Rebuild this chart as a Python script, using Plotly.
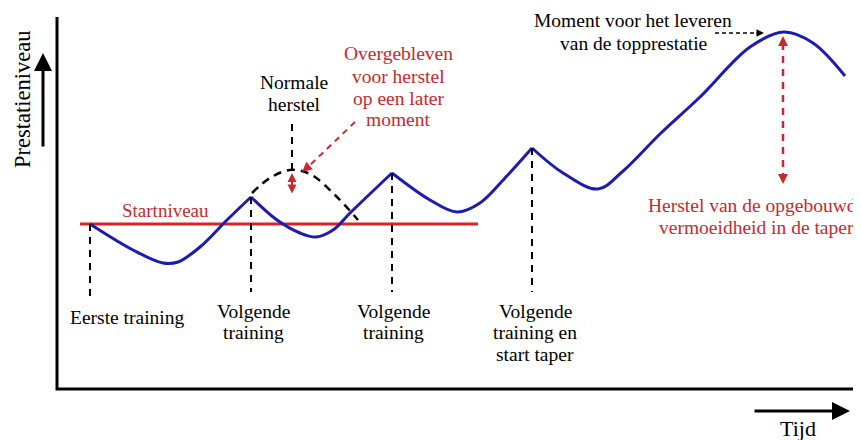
import plotly.graph_objects as go

# ---- data (time units ~ horizontal, performance units ~ vertical) ----
start_level = 216
start_level_x = [80, 478]

# blue performance curve, split at training moments (sharp peaks)
seg1_t = [90, 133, 163, 178, 200, 227, 251]
seg1_p = [216, 190, 177, 178, 193, 220, 243]
seg2_t = [251, 277, 300, 316, 333, 350, 392]
seg2_p = [243, 220, 207, 203, 210, 227, 267]
seg3_t = [392, 430, 457, 480, 505, 532]
seg3_p = [267, 240, 228, 237, 262, 292]
seg4_t = [532, 563, 598, 622, 660, 700, 750, 784, 813, 845]
seg4_p = [292, 267, 251, 268, 306, 343, 393, 408, 397, 364]

# dashed "normal recovery" arc
arc_t = [252, 270, 290, 310, 335, 358]
arc_p = [247, 262, 270, 266, 245, 220]

# training moments
train_t = [90, 251, 392, 532]
train_top = [216, 243, 267, 292]
train_bottom = [142, 148, 148, 148]

BLUE = "#1c1cb0"
RED_LINE = "#e02028"
RED_TXT = "#c42a2e"
FONT = "Liberation Serif"
FS = 19.5

fig = go.Figure()

# red start level (under the curve)
fig.add_trace(go.Scatter(x=start_level_x, y=[start_level, start_level], mode="lines",
                         line=dict(color=RED_LINE, width=3), hoverinfo="skip"))

fig.add_trace(go.Scatter(x=arc_t, y=arc_p, mode="lines",
                         line=dict(color="black", width=2.5, dash="8px,6px", shape="spline"),
                         hoverinfo="skip"))

for t, p in [(seg1_t, seg1_p), (seg2_t, seg2_p), (seg3_t, seg3_p), (seg4_t, seg4_p)]:
    fig.add_trace(go.Scatter(x=t, y=p, mode="lines",
                             line=dict(color=BLUE, width=3, shape="spline", smoothing=1.0),
                             hoverinfo="skip"))

# vertical training dashed lines
for t, top, bot in zip(train_t, train_top, train_bottom):
    fig.add_trace(go.Scatter(x=[t, t], y=[top, bot], mode="lines",
                             line=dict(color="black", width=2, dash="7px,6px"),
                             hoverinfo="skip"))
# dashed line above arc
fig.add_trace(go.Scatter(x=[292, 292], y=[270, 320], mode="lines",
                         line=dict(color="black", width=2, dash="7px,6px"), hoverinfo="skip"))

# red dashed pointer to arc
fig.add_trace(go.Scatter(x=[355, 308], y=[318, 273], mode="lines",
                         line=dict(color=RED_TXT, width=2, dash="6px,5px"), hoverinfo="skip"))
# big red dashed double arrow
fig.add_trace(go.Scatter(x=[783, 783], y=[397, 263], mode="lines",
                         line=dict(color=RED_TXT, width=2.5, dash="7px,6px"), hoverinfo="skip"))
# black dashed pointer to peak
fig.add_trace(go.Scatter(x=[715, 757], y=[407, 407], mode="lines",
                         line=dict(color="black", width=1.5, dash="4px,3px"), hoverinfo="skip"))

# axes lines
fig.add_trace(go.Scatter(x=[57, 57, 869], y=[423, 51, 51], mode="lines",
                         line=dict(color="black", width=3), hoverinfo="skip"))

ann = []
def arrow(x, y, ax, ay, color, width=2, head=2, size=1.0, side="end"):
    ann.append(dict(x=x, y=y, ax=ax, ay=ay, xref="x", yref="y", axref="x", ayref="y",
                    showarrow=True, arrowhead=head, arrowsize=size, arrowwidth=width,
                    arrowcolor=color, arrowside=side, text=""))

# axis arrows
arrow(43, 387, 43, 292, "black", width=3, head=2, size=1.2)
arrow(850, 29, 753, 29, "black", width=3, head=2, size=1.2)
# arrow heads
arrow(302, 268, 309, 274, RED_TXT, width=2, head=2, size=1.0)
arrow(292, 267, 292, 245, RED_TXT, width=2, head=2, size=0.9, side="end+start")
arrow(783, 404, 783, 392, RED_TXT, width=2, head=2, size=1.0)
arrow(783, 256, 783, 268, RED_TXT, width=2, head=2, size=1.0)
arrow(764, 407, 755, 407, "black", width=1.5, head=2, size=1.0)

def lines(x, ys, texts, color="black", size=FS, angle=0):
    for y, s in zip(ys, texts):
        ann.append(dict(x=x, y=y, xref="x", yref="y", text=s, showarrow=False,
                        font=dict(family=FONT, size=size, color=color), textangle=angle,
                        align="center", xanchor="center", yanchor="middle"))

lines(127, [123], ["Eerste training"])
lines(253, [129, 108], ["Volgende", "training"])
lines(393, [129, 108], ["Volgende", "training"])
lines(535, [129, 108, 86], ["Volgende", "training en", "start taper"])
lines(165, [230], ["Startniveau"], RED_TXT, 19)
lines(294, [358, 336], ["Normale", "herstel"])
lines(398, [387, 364, 342, 321], ["Overgebleven", "voor herstel", "op een later", "moment"], RED_TXT)
lines(633, [420, 397], ["Moment voor het leveren", "van de topprestatie"])
lines(756, [235, 213], ["Herstel van de opgebouwde", "vermoeidheid in de taper"], RED_TXT)
lines(22, [340], ["Prestatieniveau"], "black", 22.5, angle=-90)
lines(798, [12], ["Tijd"], "black", 22)

fig.update_layout(
    width=861, height=440, margin=dict(l=0, r=0, t=0, b=0),
    paper_bgcolor="white", plot_bgcolor="white", showlegend=False,
    xaxis=dict(range=[8, 869], visible=False, fixedrange=True),
    yaxis=dict(range=[-8, 432], visible=False, fixedrange=True),
    annotations=ann,
)
fig.write_html("out.html")
